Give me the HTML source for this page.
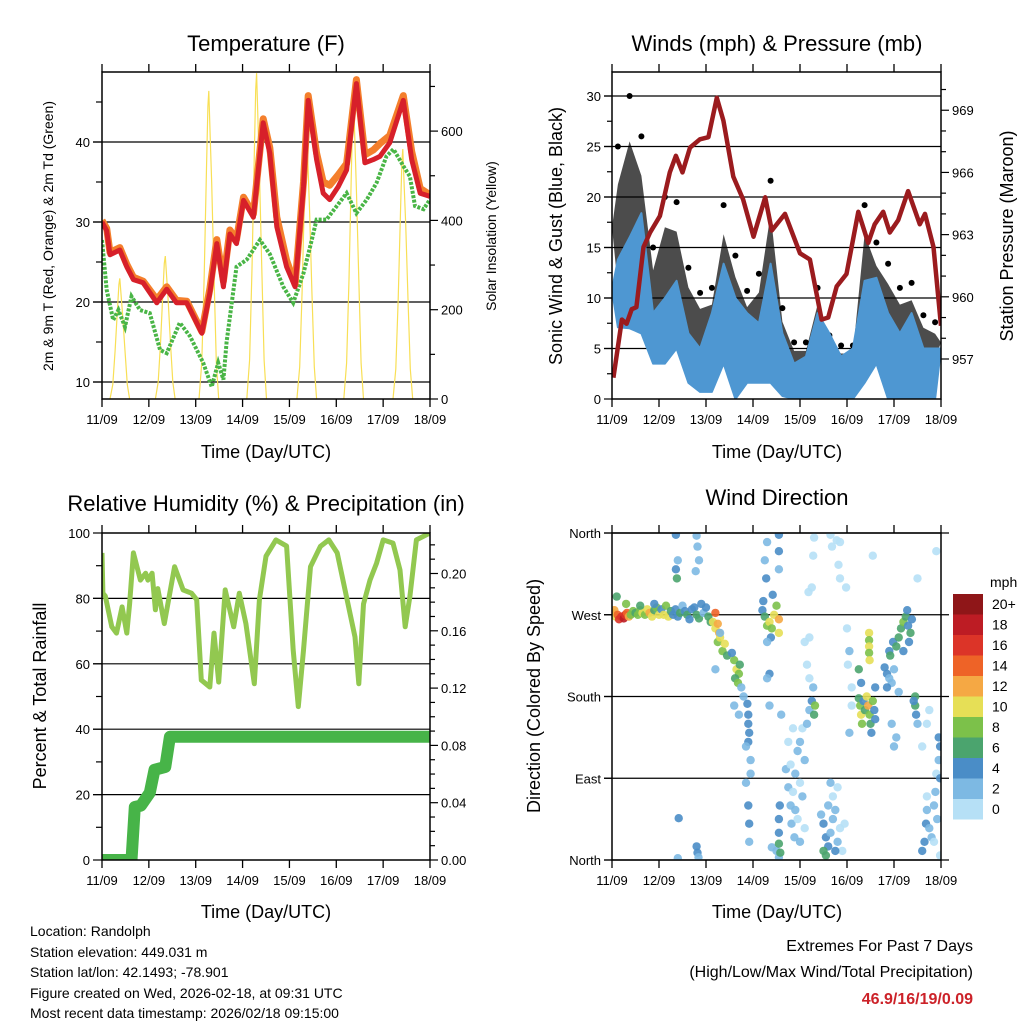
<!DOCTYPE html>
<html><head><meta charset="utf-8">
<style>
html,body{margin:0;padding:0;background:#fff;}
svg{display:block;font-family:"Liberation Sans",Arial,sans-serif;}
</style></head>
<body>
<svg id="fig" width="1024" height="1024" viewBox="0 0 1024 1024" xmlns="http://www.w3.org/2000/svg">
<defs>
<clipPath id="c1"><rect x="102" y="72" width="328" height="327"/></clipPath>
<clipPath id="c2"><rect x="612" y="72" width="329" height="327"/></clipPath>
<clipPath id="c3"><rect x="102" y="533" width="328" height="327"/></clipPath>
<clipPath id="c4"><rect x="612" y="533" width="329" height="327"/></clipPath>
</defs>
<g font-size="22" text-anchor="middle" fill="#000">
<text x="266" y="51">Temperature (F)</text>
<text x="777" y="51">Winds (mph) &amp; Pressure (mb)</text>
<text x="266" y="511">Relative Humidity (%) &amp; Precipitation (in)</text>
<text x="777" y="505">Wind Direction</text>
</g>
<g font-size="18" text-anchor="middle">
<text x="266" y="458">Time (Day/UTC)</text>
<text x="777" y="458">Time (Day/UTC)</text>
<text x="266" y="918">Time (Day/UTC)</text>
<text x="777" y="918">Time (Day/UTC)</text>
</g>
<g text-anchor="middle">
<text font-size="14" transform="translate(53,236) rotate(-90)">2m &amp; 9m T (Red, Orange) &amp; 2m Td (Green)</text>
<text font-size="14" transform="translate(496,236) rotate(-90)">Solar Insolation (Yellow)</text>
<text font-size="18" transform="translate(562,236) rotate(-90)">Sonic Wind &amp; Gust (Blue, Black)</text>
<text font-size="18" transform="translate(1013,236) rotate(-90)">Station Pressure (Maroon)</text>
<text font-size="18" transform="translate(46,696) rotate(-90)">Percent &amp; Total Rainfall</text>
<text font-size="18" transform="translate(540,696) rotate(-90)">Direction (Colored By Speed)</text>
</g>
<g font-size="14">
<text x="30" y="936">Location: Randolph</text>
<text x="30" y="957">Station elevation: 449.031 m</text>
<text x="30" y="977">Station lat/lon: 42.1493; -78.901</text>
<text x="30" y="998">Figure created on Wed, 2026-02-18, at 09:31 UTC</text>
<text x="30" y="1018">Most recent data timestamp: 2026/02/18 09:15:00</text>
</g>
<g text-anchor="end" font-size="16">
<text x="973" y="951">Extremes For Past 7 Days</text>
<text x="973" y="977">(High/Low/Max Wind/Total Precipitation)</text>
<text x="973" y="1004" fill="#cc2229" font-weight="bold">46.9/16/19/0.09</text>
</g>
<g id="charts"></g>
</svg>
<script>
// ---------- data ----------
const dayLabels = ["11/09","12/09","13/09","14/09","15/09","16/09","17/09","18/09"];
const tempDays = [0,0.10,0.17,0.38,0.53,0.67,0.88,1.17,1.38,1.59,1.81,2.13,2.30,2.45,2.59,2.73,2.87,3.02,3.23,3.44,3.58,3.73,3.94,4.12,4.30,4.40,4.58,4.72,4.86,5.04,5.22,5.43,5.61,5.79,5.93,6.14,6.43,6.61,6.79,7.0];
const temp2m = [30.0,28.9,25.9,26.5,24.4,22.8,22.4,19.9,21.6,19.9,19.9,16.1,21.1,27.3,21.9,28.5,27.3,32.7,30.6,42.4,38.6,29.4,24.4,21.9,34.4,45.2,37.8,33.6,32.8,34.4,36.5,47.3,37.4,37.8,38.2,39.9,45.2,37.8,33.6,33.2];
const temp9m = [30.2,29.2,26.2,26.8,24.7,23.1,22.6,20.3,21.9,20.2,20.1,16.3,21.6,27.8,22.6,29.0,27.8,33.1,31.0,42.9,39.3,30.6,25.2,22.2,35.0,45.8,38.6,35.0,34.6,35.9,37.3,47.8,38.4,39.0,39.8,40.8,45.8,38.8,34.2,33.4];
const dewDays = [0,0.10,0.24,0.35,0.49,0.63,0.81,1.02,1.24,1.38,1.66,1.88,2.16,2.34,2.48,2.59,2.66,2.87,3.09,3.37,3.58,3.87,4.08,4.30,4.44,4.58,4.79,5.01,5.22,5.43,5.65,5.86,6.07,6.22,6.43,6.57,6.68,6.86,7.0];
const dewPoint = [27.75,21.5,17.75,19,16.9,20.7,19,18.6,14,13.6,17.4,15.7,12.4,9.4,12.4,10.3,15,24.4,25.3,27.75,26,21.9,19.9,23.6,26.9,30.3,30.3,32,33.6,31.1,32.8,34.9,38.2,39.1,37,35.7,32,31.6,32.8];
const solarNoon = [0.38,1.35,2.28,3.30,4.37,5.37,6.42];
const solarPeak = [270,320,690,730,600,670,560];
const tempTicks = [10,20,30,40];
const solarTicks = [0,200,400,600];

const windBinDays = [0.125,0.375,0.625,0.875,1.125,1.375,1.625,1.875,2.125,2.375,2.625,2.875,3.125,3.375,3.625,3.875,4.125,4.375,4.625,4.875,5.125,5.375,5.625,5.875,6.125,6.375,6.625,6.875];
const windHi = [13.8,16,18.4,8.5,10,11.7,6.5,5,8.5,13.4,10,8.5,7.5,13.4,6.5,3.5,4.2,8.5,6.5,4.2,5,11.7,12,8.5,6.5,8.5,5,5];
const windLo = [7.1,7,6.5,3.5,3.5,5,1.6,0.7,0.7,3.5,0,1.6,1.6,1.6,0.3,0,0,0,0,0,0,1.6,3.5,0,0,0,0,0];
const gustHi = [25,30,26,15,20,19.5,13,10.5,11,19.2,14.2,10.7,12.4,21.6,9,5.6,5.6,11,6.3,5.3,5.3,19.2,15.5,13.4,11,11.5,8.3,7.6];
const presDays = [0.03,0.21,0.31,0.42,0.52,0.67,0.81,1.02,1.23,1.36,1.50,1.66,1.87,2.05,2.23,2.37,2.58,2.79,3.01,3.26,3.40,3.68,4.00,4.21,4.46,4.60,4.78,4.99,5.24,5.45,5.59,5.77,5.91,6.09,6.30,6.55,6.66,6.84,7.0];
const pressure = [956.1,958.9,958.7,959.4,959.5,962.4,963.1,963.9,966.0,966.8,966.0,967.2,967.6,967.7,969.6,968.5,965.8,964.7,962.9,964.8,963.2,964.0,962.1,961.8,958.9,959.0,960.5,961.1,964.1,962.6,963.5,964.1,963.1,963.7,965.1,963.5,964.0,962.4,958.6];
const windTicks = [0,5,10,15,20,25,30];
const presTicks = [957,960,963,966,969];

const rhDays = [0,0.02,0.07,0.21,0.31,0.43,0.53,0.59,0.67,0.82,0.93,0.98,1.07,1.14,1.19,1.33,1.55,1.73,1.91,2.02,2.12,2.30,2.39,2.49,2.63,2.81,2.93,3.07,3.25,3.36,3.50,3.71,3.94,4.08,4.19,4.30,4.45,4.66,4.84,5.02,5.40,5.48,5.58,5.72,5.86,6.00,6.21,6.36,6.47,6.57,6.71,7.0];
const rhValues = [93.9,81.6,80.7,71.3,69.4,77.4,69.4,78.3,93.9,85.6,87.7,85.6,87.7,76.5,83,72.3,89.7,82.6,81.6,79.6,55,52.9,69.4,54.4,82.6,71.3,81.6,72.3,53.9,79.6,92.9,97.9,96,64.2,46.9,64.2,89.7,95.9,97.9,93.9,68.2,53.9,78.3,85.6,90.8,97.9,96.9,88.7,71.3,80.6,97.9,100];
const precipDays = [0,0.63,0.70,0.83,1.02,1.12,1.35,1.45,7.0];
const precipIn = [0,0,0.037,0.038,0.047,0.063,0.065,0.086,0.086];
const rhTicks = [0,20,40,60,80,100];
const precipTicks = [0.00,0.04,0.08,0.12,0.16,0.20];

const dirDay = [0.02,0.05,0.08,0.12,0.15,0.2,0.25,0.28,0.32,0.36,0.4,0.45,0.5,0.55,0.6,0.65,0.7,0.75,0.8,0.85,0.9,0.95,1.0,0.1,0.3,0.6,0.9,
1.05,1.1,1.15,1.2,1.25,1.3,1.35,1.4,1.45,1.5,1.55,1.6,1.65,1.7,1.36,1.36,1.38,1.4,1.42,1.40,
1.75,1.8,1.85,1.9,1.95,2.0,2.05,2.1,1.8,1.82,1.85,1.78,1.8,1.82,1.84,
2.15,2.2,2.25,2.28,2.3,2.35,2.4,2.45,2.2,2.25,2.2,2.3,
2.6,2.65,2.7,2.62,2.68,2.72,2.55,2.75,2.8,2.6,2.7,
2.88,2.9,2.9,2.92,2.9,2.95,2.95,2.85,2.85,2.9,2.92,2.92,
3.2,3.22,3.25,3.3,3.35,3.4,3.45,3.5,3.55,3.55,3.38,3.42,3.3,3.28,3.25,3.3,3.55,3.55,3.55,3.35,3.3,3.35,3.55,3.5,3.4,3.6,
3.55,3.55,3.58,3.55,3.57,
3.7,3.75,3.8,3.82,3.85,3.9,3.95,4.0,4.05,4.1,4.15,3.9,4.0,4.05,4.1,3.88,3.95,4.0,4.2,4.25,4.3,4.32,4.28,4.2,4.1,4.15,4.18,4.2,4.25,4.28,4.3,3.8,3.75,3.85,
4.5,4.55,4.6,4.65,4.7,4.75,4.8,4.85,4.5,4.55,4.6,4.7,4.8,4.9,4.95,4.65,4.75,4.45,4.65,4.68,4.78,4.85,4.82,4.85,4.98,5.0,5.05,5.02,5.1,5.1,5.05,
5.25,5.28,5.3,5.32,5.35,5.38,5.42,5.45,5.48,5.5,5.55,5.58,5.6,5.52,5.3,5.25,5.6,5.47,5.47,5.47,5.47,5.48,
5.8,5.85,5.9,5.95,5.85,5.9,5.92,5.98,6.0,5.95,6.05,6.0,6.1,5.55,
6.05,6.1,6.15,6.2,6.25,6.3,6.35,6.38,6.32,6.28,6.2,
6.45,6.45,6.47,6.5,6.42,
6.65,6.68,6.7,6.75,6.8,6.85,6.88,6.9,6.95,6.98,6.98,6.95,6.92,6.6,6.7,6.6,6.7,6.75,6.9,6.98,6.85,6.5];
const dirDeg = [272,275,268,270,265,268,266,270,272,268,270,274,272,270,275,272,270,276,272,268,275,278,270,290,282,280,282,
276,270,280,268,274,270,276,268,272,280,274,270,265,276,358,320,310,330,46,2,
278,270,266,282,272,278,268,262,357,345,330,318,15,8,3,
262,255,240,250,245,230,238,225,272,260,210,250,
220,210,205,200,195,215,228,190,180,170,160,
172,160,150,140,130,110,95,85,125,60,40,20,
275,285,268,258,262,255,270,280,265,250,245,292,240,310,330,350,340,358,320,205,200,170,3,10,14,160,
30,18,8,45,60,
100,80,60,40,75,95,120,130,145,110,150,55,85,70,35,25,45,20,165,175,160,170,190,200,240,215,295,245,300,335,355,105,130,145,
40,25,15,30,45,55,20,35,10,5,60,70,80,10,40,85,10,50,358,345,352,350,325,310,300,255,230,215,190,170,140,
178,170,160,150,175,165,180,170,160,150,175,165,155,140,195,210,190,250,242,235,228,220,
212,205,200,195,190,230,225,240,210,150,135,125,185,335,
235,245,255,262,268,258,250,265,240,275,230,
180,170,160,150,175,
20,40,55,35,25,60,75,95,110,125,90,135,45,10,70,125,150,165,340,5,20,310];
const dirSpd = [10,12,10,14,16,16,18,16,14,12,8,8,6,8,8,10,8,10,12,10,6,8,10,6,8,6,4,
4,10,8,10,6,4,4,4,6,2,4,6,4,4,4,4,6,2,4,2,
4,6,6,4,2,4,6,6,2,2,2,2,4,4,2,
10,10,8,12,10,8,10,6,14,12,2,2,
8,10,8,6,8,6,4,2,2,2,2,
4,4,4,4,4,2,2,2,2,4,4,2,
4,4,6,8,10,8,10,8,12,10,4,4,2,4,2,2,4,4,2,4,2,2,2,2,2,2,
4,6,6,4,4,
2,2,2,2,0,2,2,2,0,2,2,2,0,2,0,2,0,2,2,4,6,8,2,0,0,0,0,0,0,0,0,0,0,0,
4,4,4,2,2,2,2,0,6,6,2,0,0,0,0,2,4,2,0,0,0,0,0,0,0,0,2,0,0,0,2,
6,8,10,8,4,6,10,12,8,6,8,4,4,4,4,6,4,10,8,10,8,10,
4,4,2,2,4,4,6,4,2,2,2,2,2,0,
6,6,6,8,6,4,6,4,4,4,4,
6,6,4,2,4,
4,4,2,2,2,2,2,0,2,4,4,4,2,4,0,0,0,0,0,0,0,0];
const speedBins = ["0","2","4","6","8","10","12","14","16","18","20+"];
const speedColors = ["#b6e0f6","#7db9e3","#4a8dc7","#4ba46e","#7cc14a","#e6df56","#f5a844","#ee6327","#dc3428","#bd1c24","#8f1618"];
const dirTicks = [0,90,180,270,360];
const dirLabels = ["North","East","South","West","North"];

// ---------- scales ----------
const x1 = d => 102 + d * 46.86;
const x2 = d => 612 + d * 47.0;
const yT = v => 382 - (v - 10) * 8;
const yS = s => 399 - s * 0.4465;
const yW = v => 399 - v * 10.1;
const yP = p => 359 - (p - 957) * 20.73;
const yR = v => 860 - v * 3.27;
const yPr = v => 860 - v * 1432.5;
const yD = d => 860 - d * 0.9083;

const NS = "http://www.w3.org/2000/svg";
const root = document.getElementById("charts");
function mk(tag, attrs, parent) {
  const el = document.createElementNS(NS, tag);
  for (const k in attrs) el.setAttribute(k, attrs[k]);
  (parent || root).appendChild(el);
  return el;
}
function pts(xs, ys, fx, fy) { return xs.map((d, i) => fx(d).toFixed(1) + "," + fy(ys[i]).toFixed(1)).join(" "); }

function frame(px, py, w, h, name) {
  const g = mk("g", {});
  
  
  for (let i = 0; i < 8; i++) {
    const x = px + i * w / 7;
    const t1 = mk("line", {x1: x, y1: py - 8, x2: x, y2: py, stroke: "#000", "stroke-width": 1.3}, g);
    
    
    const t2 = mk("line", {x1: x, y1: py + h, x2: x, y2: py + h + 8, stroke: "#000", "stroke-width": 1.3}, g);
    
    
    const lb = mk("text", {x: x, y: py + h + 25, "font-size": 13, "text-anchor": "middle"}, g);
    
    
    lb.textContent = dayLabels[i];
  }
  return g;
}
function border(px, py, w, h, name) {
  const r = mk("rect", {x: px, y: py, width: w, height: h, fill: "none", stroke: "#000", "stroke-width": 1.5});
  
  
}
function hgrid(g, y, xa, xb) {
  const l = mk("line", {x1: xa, y1: y, x2: xb, y2: y, stroke: "#000", "stroke-width": 1.2}, g);
  
  
}
function ytick(g, x, y, len, text, anchor, size) {
  const t = mk("line", {x1: x, y1: y, x2: x + len, y2: y, stroke: "#000", "stroke-width": 1.2}, g);
  
  
  if (text !== null) {
    const lb = mk("text", {x: x + len + (len < 0 ? -3 : 3), y: y + 5, "font-size": size || 13, "text-anchor": anchor}, g);
    
    
    lb.textContent = text;
  }
}

// ---------- Panel 1: temperature ----------
(function () {
  const g = frame(102, 72, 328, 327, "temperature");
  tempTicks.forEach(v => { hgrid(g, yT(v), 93, 430); ytick(g, 102, yT(v), -9, String(v), "end", 13); });
  [15, 25, 35, 45].forEach(v => ytick(g, 102, yT(v), -6, null));
  solarTicks.forEach(s => ytick(g, 430, yS(s), 8, String(s), "start", 13));
  [100, 300, 500, 700].forEach(s => ytick(g, 430, yS(s), 5, null));
  const c = mk("g", {"clip-path": "url(#c1)"});
  
  
  solarNoon.forEach((n, i) => {
    const p = solarPeak[i];
    const xs = [n - 0.21, n - 0.15, n - 0.1, n - 0.05, n - 0.02, n, n + 0.03, n + 0.06, n + 0.11, n + 0.16, n + 0.21];
    const fr = [0, 0.12, 0.4, 0.75, 0.95, 1, 0.85, 0.7, 0.4, 0.12, 0];
    const sl = mk("polyline", {points: xs.map((d, k) => x1(d).toFixed(1) + "," + yS(p * fr[k]).toFixed(1)).join(" "), fill: "none", stroke: "#f8df55", "stroke-width": 1.2}, c);
    
    
  });
  const dw = mk("polyline", {points: pts(dewDays, dewPoint, x1, yT), fill: "none", stroke: "#49b546", "stroke-width": 4, "stroke-dasharray": "3 1.5"}, c);
  
  
  const o = mk("polyline", {points: pts(tempDays, temp9m, x1, yT), fill: "none", stroke: "#f47f2c", "stroke-width": 7, "stroke-linejoin": "round"}, c);
  
  
  const r = mk("polyline", {points: pts(tempDays, temp2m, x1, yT), fill: "none", stroke: "#d7202a", "stroke-width": 5, "stroke-linejoin": "round"}, c);
  
  
  border(102, 72, 328, 327, "temperature");
})();

// ---------- Panel 2: winds ----------
(function () {
  const g = frame(612, 72, 329, 327, "winds");
  windTicks.forEach(v => { if (v > 0) hgrid(g, yW(v), 604, 941); ytick(g, 612, yW(v), -8, String(v), "end", 13); });
  [2.5, 7.5, 12.5, 17.5, 22.5, 27.5].forEach(v => ytick(g, 612, yW(v), -5, null));
  presTicks.forEach(p => ytick(g, 941, yP(p), 8, String(p), "start", 13));
  [958, 959, 961, 962, 964, 965, 967, 968, 970].forEach(p => ytick(g, 941, yP(p), 5, null));
  const c = mk("g", {"clip-path": "url(#c2)"});
  
  
  const top = windBinDays.map((d, i) => x2(d).toFixed(1) + "," + yW(gustHi[i] * 0.85).toFixed(1));
  const bot = windBinDays.map((d, i) => x2(d).toFixed(1) + "," + yW(windHi[i] * 0.8).toFixed(1)).reverse();
  const gp = mk("polygon", {points: [x2(0) + "," + yW(gustHi[0] - 8), ...top, x2(7) + "," + yW(gustHi[27] - 2), ...bot].join(" "), fill: "#000", "fill-opacity": 0.7, stroke: "none"}, c);
  
  
  windBinDays.forEach((d, i) => {
    const gd = mk("circle", {cx: x2(d).toFixed(1), cy: yW(gustHi[i]).toFixed(1), r: 3, fill: "#000"}, c);
    
    
  });
  const wt = windBinDays.map((d, i) => x2(d).toFixed(1) + "," + yW(windHi[i]).toFixed(1));
  const wb = windBinDays.map((d, i) => x2(d).toFixed(1) + "," + yW(windLo[i]).toFixed(1)).reverse();
  const wp = mk("polygon", {points: [x2(0) + "," + yW(windHi[0] - 3), ...wt, x2(7) + "," + yW(windHi[27]), ...wb].join(" "), fill: "#4e97d2", stroke: "#4e97d2", "stroke-width": 2, "stroke-linejoin": "round"}, c);
  
  
  const pl = mk("polyline", {points: pts(presDays, pressure, x2, yP), fill: "none", stroke: "#9b1b1e", "stroke-width": 4.5, "stroke-linejoin": "round"}, c);
  
  
  border(612, 72, 329, 327, "winds");
})();

// ---------- Panel 3: RH & precip ----------
(function () {
  const g = frame(102, 533, 328, 327, "humidity");
  rhTicks.forEach(v => { if (v > 0 && v < 100) hgrid(g, yR(v), 93, 430); ytick(g, 102, yR(v), -9, String(v), "end", 13); });
  [10, 30, 50, 70, 90].forEach(v => ytick(g, 102, yR(v), -6, null));
  precipTicks.forEach(p => ytick(g, 430, yPr(p), 8, p.toFixed(2), "start", 13));
  [0.01,0.02,0.03,0.05,0.06,0.07,0.09,0.10,0.11,0.13,0.14,0.15,0.17,0.18,0.19,0.21,0.22].forEach(p => ytick(g, 430, yPr(p), 5, null));
  const c = mk("g", {"clip-path": "url(#c3)"});
  
  
  const rh = mk("polyline", {points: pts(rhDays, rhValues, x1, yR), fill: "none", stroke: "#92c850", "stroke-width": 5, "stroke-linejoin": "round"}, c);
  
  
  const pr = mk("polyline", {points: pts(precipDays, precipIn, x1, yPr), fill: "none", stroke: "#47b448", "stroke-width": 12, "stroke-linejoin": "round", "stroke-linecap": "round"}, c);
  
  
  border(102, 533, 328, 327, "humidity");
})();

// ---------- Panel 4: wind direction ----------
(function () {
  const g = frame(612, 533, 329, 327, "direction");
  dirTicks.forEach((d, i) => { hgrid(g, yD(d), 604, 949); ytick(g, 612, yD(d), -8, dirLabels[i], "end", 13); });
  const c = mk("g", {"clip-path": "url(#c4)"});
  
  
  dirDay.forEach((d, i) => {
    const bin = Math.min(10, Math.floor(dirSpd[i] / 2));
    const pt = mk("circle", {cx: x2(d).toFixed(1), cy: yD(dirDeg[i]).toFixed(1), r: 4.2, fill: speedColors[bin], "fill-opacity": 0.9}, c);
    
    
  });
  border(612, 533, 329, 327, "direction");
  const cb = mk("g", {});
  
  
  const ut = mk("text", {x: 990, y: 587, "font-size": 14}, cb);
  
  
  ut.textContent = "mph";
  speedBins.forEach((lab, i) => {
    const y = 799 - i * 20.5;
    const box = mk("rect", {x: 953, y: y, width: 30, height: 20.5, fill: speedColors[i]}, cb);
    
    
    const t = mk("text", {x: 992, y: y + 15, "font-size": 14}, cb);
    
    
    t.textContent = lab;
  });
})();
</script>
</body></html>
